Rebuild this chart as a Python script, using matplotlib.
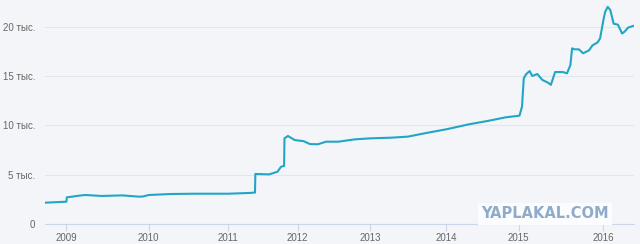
import numpy as np
import matplotlib
matplotlib.use("Agg")
import matplotlib.pyplot as plt

# date as fractional year, value in roubles
years = [2008.74, 2009.0, 2009.005, 2009.18, 2009.23, 2009.43, 2009.68, 2009.88, 2009.93,
         2010.0, 2010.28, 2010.59, 2011.0, 2011.32, 2011.365, 2011.385, 2011.39,
         2011.59, 2011.71, 2011.76, 2011.80, 2011.805, 2011.81, 2011.86, 2011.96,
         2012.08, 2012.17, 2012.28, 2012.39, 2012.56, 2012.79, 2013.0, 2013.28,
         2013.49, 2013.76, 2014.0, 2014.31, 2014.59, 2014.82, 2015.01, 2015.04,
         2015.06, 2015.09, 2015.13, 2015.16, 2015.22, 2015.28, 2015.35, 2015.38,
         2015.43, 2015.52, 2015.57, 2015.61, 2015.63, 2015.66, 2015.71, 2015.76,
         2015.83, 2015.87, 2015.93, 2015.96, 2016.0, 2016.02, 2016.05, 2016.08,
         2016.12, 2016.17, 2016.22, 2016.25, 2016.29, 2016.35]
values = [2160, 2260, 2700, 2900, 2940, 2840, 2900, 2770, 2790,
          2940, 3040, 3070, 3070, 3150, 3180, 3180, 5070,
          5030, 5300, 5800, 5880, 5880, 8680, 8920, 8500,
          8400, 8100, 8080, 8340, 8340, 8580, 8680, 8750,
          8850, 9260, 9600, 10100, 10470, 10810, 10980, 11900,
          14760, 15200, 15500, 15000, 15200, 14600, 14300, 14100,
          15400, 15400, 15270, 16100, 17800, 17700, 17700, 17300,
          17600, 18100, 18400, 18800, 20700, 21500, 22000, 21700,
          20300, 20200, 19300, 19500, 19900, 20070]

tick_years = [2009, 2010, 2011, 2012, 2013, 2014, 2015, 2016]
y_ticks = [0, 5000, 10000, 15000, 20000]
y_labels = ["0", "5 тыс.", "10 тыс.", "15 тыс.", "20 тыс."]

# the source axis is ordinal: years are not evenly spaced on screen
scale_years = [2008] + tick_years + [2017]
scale_pos = [-39, 163, 365, 560, 730, 908, 1095, 1272, 1480, 1688]


def fwd(x):
    return np.interp(x, scale_years, scale_pos)


def inv(p):
    return np.interp(p, scale_pos, scale_years)


plt.rcParams["font.family"] = ["Liberation Sans", "DejaVu Sans"]

bg = "#f3f5f8"
fig = plt.figure(figsize=(6.4, 2.44), dpi=100, facecolor=bg)
ax = fig.add_axes([45 / 640, 20 / 244, 589 / 640, 224 / 244], facecolor=bg)
ax.set_xscale("function", functions=(fwd, inv))

ax.plot(years, values, color="#22a5c6", lw=1.5, solid_joinstyle="round")

ax.set_xlim(2008.74, 2016.36)
ax.set_ylim(0, 22700)
ax.set_xticks(tick_years)
ax.set_xticklabels([str(y) for y in tick_years])
ax.set_yticks(y_ticks)
ax.set_yticklabels(y_labels)
ax.xaxis.set_minor_locator(plt.NullLocator())

ax.grid(axis="y", color="#e3e6ea", lw=0.8)
ax.set_axisbelow(True)
for s in ["top", "right", "left"]:
    ax.spines[s].set_visible(False)
ax.spines["bottom"].set_color("#ccd6eb")
ax.spines["bottom"].set_linewidth(0.8)

ax.tick_params(axis="x", colors="#ccd6eb", length=5, width=0.8, pad=1.5,
               labelcolor="#666666", labelsize=7)
ax.tick_params(axis="y", length=0, pad=7, labelcolor="#666666", labelsize=7)

fig.text(545 / 640, 30 / 244, "YAPLAKAL.COM", ha="center", va="center",
         fontsize=10.5, fontweight="bold", color="#8fabc9",
         family="DejaVu Sans",
         bbox=dict(boxstyle="square,pad=0.25", fc="#fbfcfd", ec="none"))

fig.savefig("out.png", dpi=100, facecolor=bg)
